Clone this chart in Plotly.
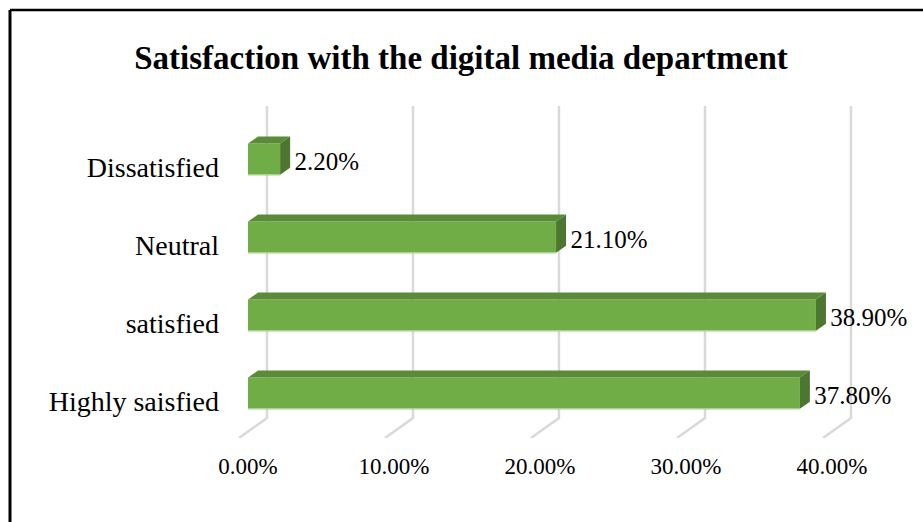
import plotly.graph_objects as go

# ---- data ----
categories = ["Highly saisfied", "satisfied", "Neutral", "Dissatisfied"]
values = [37.8, 38.9, 21.1, 2.2]
value_labels = ["37.80%", "38.90%", "21.10%", "2.20%"]
x_ticks = [0, 10, 20, 30, 40]
x_tick_labels = ["0.00%", "10.00%", "20.00%", "30.00%", "40.00%"]
title_text = "Satisfaction with the digital media department"

# ---- style constants (3D look) ----
FRONT = "#70AD47"
TOP = "#5B8B38"
SIDE = "#4D7630"
GRID = "#D9D9D9"
FONT = "Liberation Serif, Times New Roman, serif"

W, H = 923, 522
ML, MR, MT, MB = 230, 53, 106, 84
XR = [-1.233, 42.603]
YR = [-0.474, 3.782]

bar_h = 0.40        # front-face thickness (category units)
bar_shift = 0.10    # front face sits above the category tick
ddx, ddy = 0.685, 0.09   # bar depth offset
back_dx = 1.30      # back wall offset from front plane
floor_back_y = -0.218
floor_front_y = YR[0]
floor_dx = -1.92

fig = go.Figure()

# gridlines on back wall + floor
for t in x_ticks:
    xb = t + back_dx
    fig.add_trace(go.Scatter(
        x=[xb, xb, xb + floor_dx],
        y=[YR[1], floor_back_y, floor_front_y],
        mode="lines", line=dict(color=GRID, width=2.5),
        hoverinfo="skip", showlegend=False, cliponaxis=False))

# bars
for i, v in enumerate(values):
    c = i + bar_shift
    y0, y1 = c - bar_h / 2, c + bar_h / 2
    # front
    fig.add_trace(go.Scatter(
        x=[0, v, v, 0, 0], y=[y0, y0, y1, y1, y0],
        fill="toself", fillcolor=FRONT, mode="lines",
        line=dict(width=0, color=FRONT), hoverinfo="skip", showlegend=False))
    # bottom light edge
    fig.add_trace(go.Scatter(
        x=[0, v], y=[y0, y0], mode="lines",
        line=dict(width=1.5, color="#A9D18E"), hoverinfo="skip", showlegend=False))
    # top
    fig.add_trace(go.Scatter(
        x=[0, v, v + ddx, ddx, 0], y=[y1, y1, y1 + ddy, y1 + ddy, y1],
        fill="toself", fillcolor=TOP, mode="lines",
        line=dict(width=0, color=TOP), hoverinfo="skip", showlegend=False))
    # side
    fig.add_trace(go.Scatter(
        x=[v, v + ddx, v + ddx, v, v], y=[y0, y0 + ddy, y1 + ddy, y1, y0],
        fill="toself", fillcolor=SIDE, mode="lines",
        line=dict(width=0, color=SIDE), hoverinfo="skip", showlegend=False))

# data labels
fig.add_trace(go.Scatter(
    x=[v + ddx + 0.3 for v in values],
    y=[i + bar_shift - 0.06 for i in range(len(values))],
    text=value_labels, mode="text", textposition="middle right",
    textfont=dict(family=FONT, size=25, color="black"),
    cliponaxis=False, hoverinfo="skip", showlegend=False))

pw = W - ML - MR
ph = H - MT - MB
# outer border (left & top only, image is cropped)
bx0 = (10 - ML) / pw
by_top = 1 + (MT - 10) / ph
fig.add_shape(type="line", xref="paper", yref="paper",
              x0=bx0, x1=bx0, y0=by_top, y1=-MB / ph - 0.05,
              line=dict(color="black", width=3))
fig.add_shape(type="line", xref="paper", yref="paper",
              x0=bx0, x1=1 + MR / pw + 0.05, y0=by_top, y1=by_top,
              line=dict(color="black", width=2.5))

fig.update_layout(
    width=W, height=H,
    margin=dict(l=ML, r=MR, t=MT, b=MB),
    paper_bgcolor="white", plot_bgcolor="white",
    title=dict(text="<b>" + title_text + "</b>", x=461 / W, xanchor="center",
               y=1 - 57 / H, yanchor="middle", yref="container",
               font=dict(family=FONT, size=33, color="black")),
    xaxis=dict(range=XR, tickvals=x_ticks, ticktext=x_tick_labels,
               showgrid=False, zeroline=False, showline=False, ticks="",
               ticklabelstandoff=12,
               tickfont=dict(family=FONT, size=23, color="black")),
    yaxis=dict(range=YR, tickvals=list(range(len(categories))), ticktext=categories,
               showgrid=False, zeroline=False, showline=False, ticks="",
               ticklabelstandoff=10,
               tickfont=dict(family=FONT, size=28, color="black")),
    showlegend=False,
)

fig.write_html("out.html")
